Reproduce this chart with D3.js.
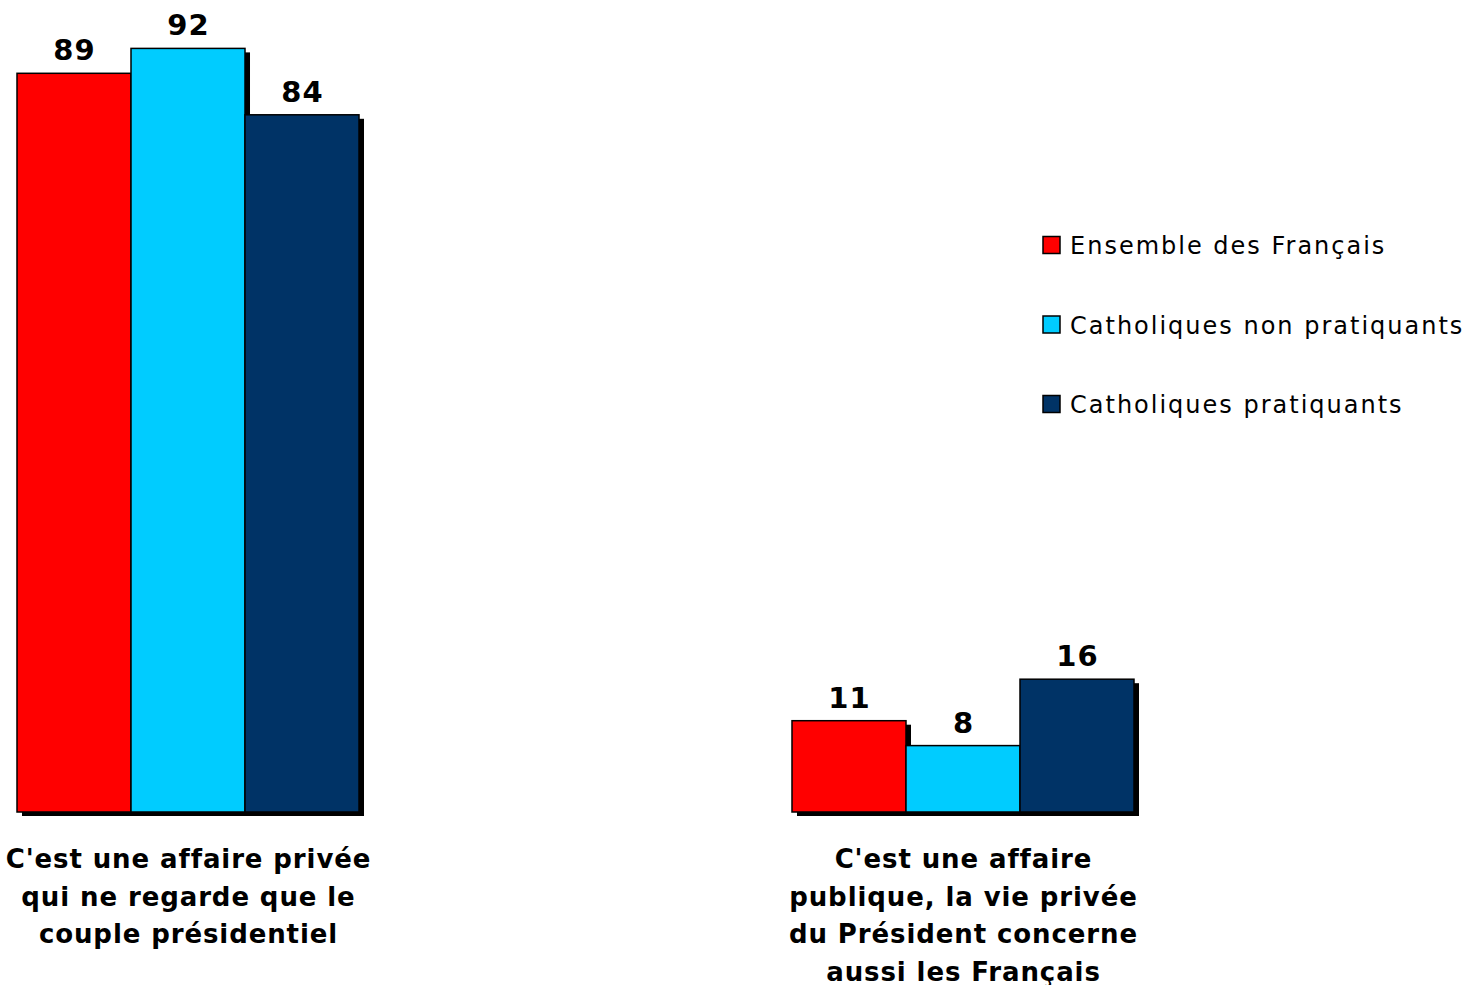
<!DOCTYPE html>
<html><head><meta charset="utf-8">
<script src="https://cdn.jsdelivr.net/npm/d3@7"></script>
<style>html,body{margin:0;padding:0;background:#fff;}</style>
</head><body>
<svg id="chart" width="1468" height="985"></svg>
<script>
const categories = [
  ["C'est une affaire privée", "qui ne regarde que le", "couple présidentiel"],
  ["C'est une affaire", "publique, la vie privée", "du Président concerne", "aussi les Français"]
];
const categoryKeys = ["prive", "public"];
const seriesNames = ["Ensemble des Français", "Catholiques non pratiquants", "Catholiques pratiquants"];
const seriesColors = ["#ff0000", "#00ccff", "#003366"];
const ensembleValues = [89, 11];
const nonPratiquantsValues = [92, 8];
const pratiquantsValues = [84, 16];
const seriesValues = [ensembleValues, nonPratiquantsValues, pratiquantsValues];

const svg = d3.select("#chart");
const x0 = d3.scaleBand().domain(categoryKeys).range([17, 1134]).paddingInner(0.5587).paddingOuter(0);
const x1 = d3.scaleBand().domain(d3.range(seriesNames.length)).range([0, x0.bandwidth()]).padding(0);
const y = d3.scaleLinear().domain([0, 100]).range([812, -18]);

const bars = [];
categoryKeys.forEach((c, ci) => {
  seriesValues.forEach((vals, si) => {
    bars.push({c, ci, si, v: vals[ci]});
  });
});

const off = 5;
svg.append("g").selectAll("rect").data(bars).join("rect")
  .attr("x", d => x0(d.c) + x1(d.si) + off)
  .attr("y", d => y(d.v) + off - 1)
  .attr("width", x1.bandwidth())
  .attr("height", d => y(0) - y(d.v))
  .attr("fill", "#000");

svg.append("g").selectAll("rect").data(bars).join("rect")
  .attr("x", d => x0(d.c) + x1(d.si))
  .attr("y", d => y(d.v))
  .attr("width", x1.bandwidth())
  .attr("height", d => y(0) - y(d.v))
  .attr("fill", d => seriesColors[d.si])
  .attr("stroke", "#000")
  .attr("stroke-width", 1.5);

svg.append("g").selectAll("text").data(bars).join("text")
  .attr("x", d => x0(d.c) + x1(d.si) + x1.bandwidth() / 2 + 0.5)
  .attr("y", d => y(d.v) - 13)
  .attr("text-anchor", "middle")
  .attr("font-family", "DejaVu Sans, Verdana, sans-serif")
  .attr("font-weight", "bold")
  .attr("font-size", 29)
  .attr("letter-spacing", 1)
  .attr("fill", "#000")
  .text(d => d.v);

const catG = svg.append("g");
categoryKeys.forEach((c, ci) => {
  const cx = x0(c) + x0.bandwidth() / 2 + 0.5;
  const t = catG.append("text")
    .attr("x", cx)
    .attr("y", 868)
    .attr("text-anchor", "middle")
    .attr("font-family", "DejaVu Sans, Verdana, sans-serif")
    .attr("font-weight", "bold")
    .attr("font-size", 26)
    .attr("letter-spacing", 0.9)
    .attr("fill", "#000");
  categories[ci].forEach((line, li) => {
    t.append("tspan").attr("x", cx).attr("dy", li === 0 ? 0 : 37.5).text(line);
  });
});

const leg = svg.append("g");
seriesNames.forEach((name, i) => {
  const yy = 245 + i * 79.5;
  leg.append("rect").attr("x", 1043).attr("y", yy - 8.5).attr("width", 17).attr("height", 17)
    .attr("fill", seriesColors[i]).attr("stroke", "#000").attr("stroke-width", 1.5);
  leg.append("text").attr("x", 1070).attr("y", yy + 9)
    .attr("font-family", "DejaVu Sans, Verdana, sans-serif")
    .attr("font-size", 24).attr("letter-spacing", 2).attr("fill", "#000").text(name);
});
</script>
</body></html>
